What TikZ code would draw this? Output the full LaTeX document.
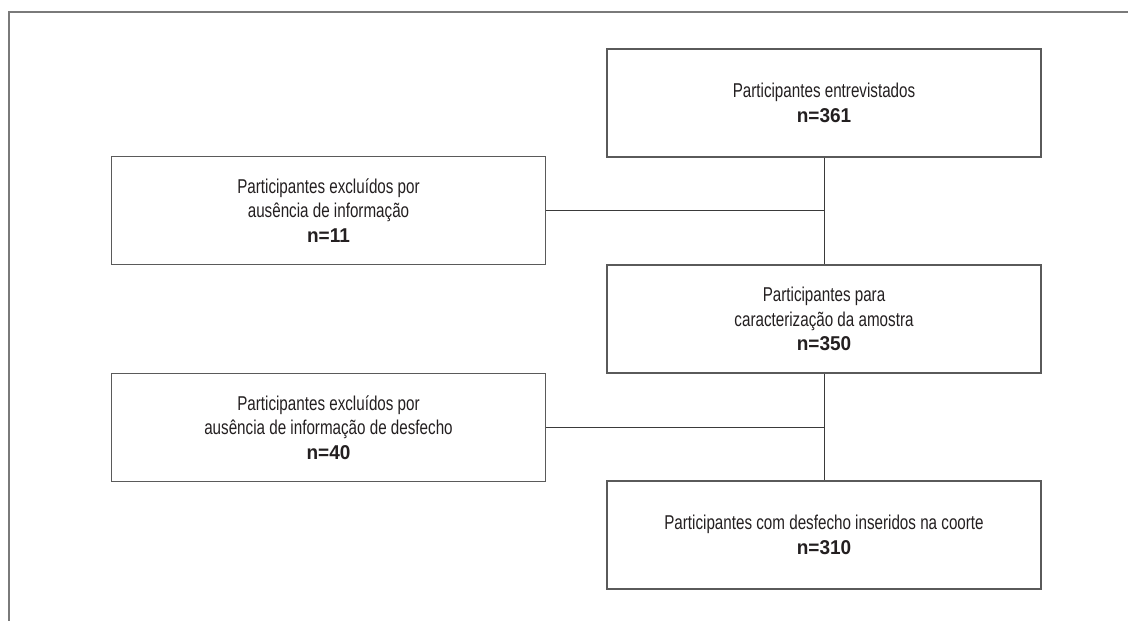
\documentclass[tikz,border=0pt]{standalone}
\usepackage{fontspec}
\setmainfont[FakeStretch=0.76, BoldFeatures={FakeStretch=0.95}]{Liberation Sans}
\usetikzlibrary{positioning}
\definecolor{borda}{HTML}{5A5A5A}
\definecolor{linha}{HTML}{3A3A3A}
\definecolor{moldura}{HTML}{7A7A7A}
\definecolor{texto}{HTML}{231F20}
\tikzset{
  caixa/.style={draw=borda, line width=1pt, minimum width=325.5pt, minimum height=81pt,
    align=center, inner sep=0pt, text=texto, font=\fontsize{15}{18.5}\selectfont},
  liga/.style={draw=linha, line width=0.7pt}
}
\begin{document}
\begin{tikzpicture}[x=0.75pt,y=-0.75pt]
 \useasboundingbox (0,0) rectangle (1128,621);
 % moldura
 \draw[moldura, line width=1pt] (9,621) -- (9,12) -- (1128,12);
 % caixas
 \node[caixa] (entrev) at (824,103) {Participantes entrevistados\\\textbf{n=361}};
 \node[caixa] (excl1) at (328.5,210.5) {Participantes excluídos por\\ausência de informação\\\textbf{n=11}};
 \node[caixa] (carac) at (824,319) {Participantes para\\caracterização da amostra\\\textbf{n=350}};
 \node[caixa] (excl2) at (328.5,427.5) {Participantes excluídos por\\ausência de informação de desfecho\\\textbf{n=40}};
 \node[caixa] (coorte) at (824,535) {Participantes com desfecho inseridos na coorte\\\textbf{n=310}};
 % ligacoes
 \draw[liga] (entrev.south) -- (carac.north);
 \draw[liga] (excl1.east) -- (excl1.east -| entrev.south);
 \draw[liga] (carac.south) -- (coorte.north);
 \draw[liga] (excl2.east) -- (excl2.east -| carac.south);
\end{tikzpicture}
\end{document}
